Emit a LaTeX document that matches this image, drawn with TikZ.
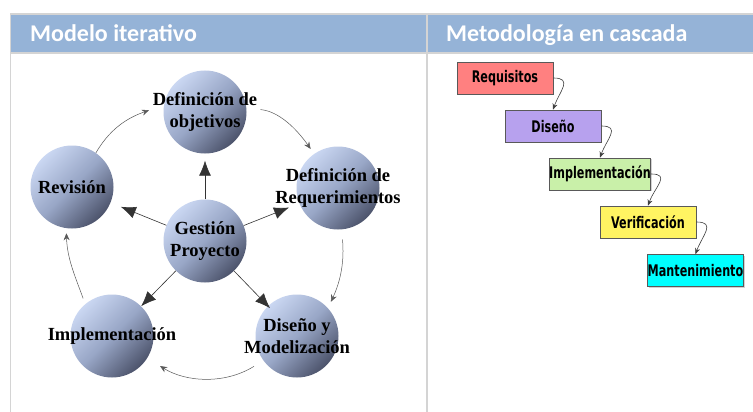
\documentclass[tikz,border=0pt]{standalone}
\usepackage{fontspec}
\setmainfont{Liberation Serif}
\newfontfamily\headfont{Carlito}
\newfontfamily\boxfont{DejaVu Sans}[FakeStretch=0.7, BoldFeatures={FakeStretch=0.7}]
\usepackage{xcolor}
\usepackage{tikz}
\usetikzlibrary{positioning,arrows.meta,shadows}
\definecolor{headblue}{HTML}{95B3D7}
\definecolor{rulegray}{HTML}{D4D4D4}
\definecolor{balllight}{HTML}{CAD7F2}
\definecolor{ballmid}{HTML}{98A6C6}
\definecolor{balldark}{HTML}{4C536B}
\definecolor{reqred}{HTML}{FF8080}
\definecolor{dispurple}{HTML}{B7A1EE}
\definecolor{impgreen}{HTML}{C9F0A9}
\definecolor{vergold}{HTML}{FFF462}
\definecolor{mantcyan}{HTML}{00FFFF}

\begin{document}
\begin{tikzpicture}[
  x=1pt, y=1pt,
  ball/.style={
    circle, minimum size=83pt, inner sep=0pt,
    top color=balllight, bottom color=balldark, middle color=ballmid,
    shading angle=45,
  },
  balltext/.style={align=center, font=\fontsize{18.5}{22}\selectfont\bfseries, text=black},
  headtext/.style={anchor=base west, inner sep=0pt, text=white,
    font=\headfont\bfseries\fontsize{24}{28}\selectfont},
  hub/.style={draw=black!80, line width=0.6pt, -{Latex[length=15pt,width=12pt]}},
  cyc/.style={draw=black!65, line width=0.5pt, -{Stealth[length=7pt,width=6pt]}},
  stagebox/.style={
    rectangle, draw=black!65, line width=0.8pt,
    minimum width=96pt, minimum height=32pt, inner sep=0pt,
    font=\boxfont\bfseries\fontsize{16}{18}\selectfont,
    drop shadow={shadow xshift=1pt, shadow yshift=-1pt, opacity=0.35},
  },
  flow/.style={draw=black!75, line width=0.6pt, looseness=1.6, -{Stealth[length=6pt,width=5pt]}},
]
\fill[white] (0,0) rectangle (753,-412);
\useasboundingbox (0,0) rectangle (753,-412);

% Table frame and header row
\fill[headblue] (11,-15) rectangle (753,-52);
\draw[rulegray, line width=1.6pt] (10,-14) -- (753,-14);
\draw[rulegray, line width=1.6pt] (10,-53) -- (753,-53);
\draw[rulegray, line width=1.6pt] (10.5,-14) -- (10.5,-412);
\draw[rulegray, line width=1.6pt] (427,-14) -- (427,-412);
\node[headtext] (hleft) at (30,-42) {Modelo iterativo};
\node[headtext] (hright) at (446,-42) {Metodología en cascada};

% Iterative model - spheres
\node[ball, label={[balltext]center:Definición de\\objetivos}] (obj) at (205,-112) {};
\node[ball, label={[balltext]center:Revisión}] (rev) at (72,-187) {};
\node[ball, label={[balltext]center:Definición de\\Requerimientos}] (req) at (338,-188) {};
\node[ball, label={[balltext]center:Gestión\\Proyecto}] (ges) at (205,-241) {};
\node[ball, label={[balltext]center:Implementación}] (imp) at (112,-336) {};
\node[ball, label={[balltext]center:Diseño y\\Modelización}] (dis) at (297,-336) {};

% Hub arrows
\draw[hub, shorten >=7pt] (ges) -- (obj);
\draw[hub, shorten >=11pt] (ges) -- (rev);
\draw[hub, shorten >=11pt] (ges) -- (req);
\draw[hub] (ges) -- (imp);
\draw[hub, shorten >=-3pt] (ges) -- (dis);

% Outer cycle
\draw[cyc, shorten >=16pt] (rev.55) to[out=60,in=200] (obj.170);
\draw[cyc, shorten <=14pt, shorten >=6pt] (obj.5) to[out=-5,in=125] (req.125);
\draw[cyc, shorten <=10pt, shorten >=7pt] (req.275) to[out=-85,in=65] (dis.42);
\draw[cyc, shorten <=11pt, shorten >=15pt] (dis.216) to[out=212,in=328] (imp.-32);
\draw[cyc, shorten <=6pt, shorten >=5pt] (imp.130) to[out=110,in=-88] (rev.262);

% Waterfall stages
\node[stagebox, fill=reqred] (sreq) at (505,-78) {Requisitos};
\node[stagebox, fill=dispurple] (sdis) at (553,-126) {Diseño};
\node[stagebox, fill=impgreen] (simp) at (600,-174) {Implementación};
\node[stagebox, fill=vergold] (sver) at (648,-222) {Verificación};
\node[stagebox, fill=mantcyan] (sman) at (695.5,-270.5) {Mantenimiento};

% Waterfall links
\draw[flow] (sreq.east) to[out=0,in=70] (sdis.north);
\draw[flow] (sdis.east) to[out=0,in=70] (simp.north);
\draw[flow] (simp.east) to[out=0,in=70] (sver.north);
\draw[flow] (sver.east) to[out=0,in=70] (sman.north);

\end{tikzpicture}
\end{document}
